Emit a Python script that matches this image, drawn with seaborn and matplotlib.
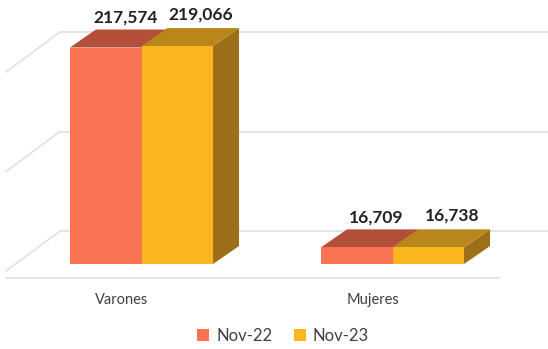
import matplotlib
matplotlib.use("Agg")
import matplotlib.pyplot as plt
from matplotlib.patches import Polygon
import pandas as pd
import seaborn as sns

# --- data -------------------------------------------------------------
categories = ["Varones", "Mujeres"]
periods = ["Nov-22", "Nov-23"]
values_nov22 = [217574, 16709]
values_nov23 = [219066, 16738]
grid_values = [0, 100000, 200000]

df = pd.DataFrame({
    "Sexo": categories * 2,
    "Periodo": [periods[0]] * len(categories) + [periods[1]] * len(categories),
    "Total": values_nov22 + values_nov23,
})

# --- style --------------------------------------------------------------
front_colors = ["#F97352", "#FBB51E"]
top_colors = ["#B34F38", "#B9861B"]
side_colors = ["#9E4430", "#9C6F18"]
grid_color = "#E2E2E8"
label_offsets = [(14, 21.5), (17, 23)]   # value-label offsets (points) per period

sns.set_theme(style="white")
plt.rcParams["font.family"] = ["Lato", "DejaVu Sans"]

W, H = 548, 349
fig = plt.figure(figsize=(W / 100, H / 100), dpi=100)
ax = fig.add_axes([0, 0, 1, 1])

sns.barplot(data=df, x="Sexo", y="Total", hue="Periodo", palette=front_colors,
            width=0.57, saturation=1, linewidth=0, ax=ax)

# pixel layout of the oblique projection
X0_PX = 141.5          # pixel column of the first category
PX_PER_CAT = 251.0     # pixels between categories
BASE_PX = 264.0        # pixel row of the bar baseline
PX_PER_VAL = 99.5 / 100000


def dx(px):
    return px / PX_PER_CAT


def dy(px):
    return px / PX_PER_VAL


ax.set_xlim(-X0_PX / PX_PER_CAT, (W - X0_PX) / PX_PER_CAT)
ax.set_ylim(-(H - BASE_PX) / PX_PER_VAL, BASE_PX / PX_PER_VAL)
ax.set_axis_off()

# walls: back-wall gridlines plus side-wall diagonals
wall_left = dx(60 - X0_PX)
wall_lift = dy(33)
diag_dx, diag_dy = dx(54), dy(40)
for g in grid_values:
    yb = g + wall_lift
    ax.plot([wall_left, ax.get_xlim()[1]], [yb, yb], color=grid_color, lw=1.3,
            zorder=0.5, solid_capstyle="butt")
    ax.plot([wall_left, wall_left - diag_dx], [yb, yb - diag_dy],
            color=grid_color, lw=1.3, zorder=0.5)
# front edge of the floor
ax.plot([wall_left - diag_dx, dx(500 - X0_PX)], [-dy(14.3), -dy(14.3)],
        color=grid_color, lw=1.3, zorder=0.5)

# extrude every bar into a box
depth_dx, depth_dy = dx(26), dy(18)
bars = []
for hi, cont in enumerate(ax.containers):
    for bar in cont:
        bars.append((bar.get_x(), hi, bar))
bars.sort(key=lambda t: t[0])

for rank, (_, hi, bar) in enumerate(bars):
    x, w, h = bar.get_x(), bar.get_width(), bar.get_height()
    z = 2 + 3 * rank
    side = Polygon([(x + w, 0), (x + w + depth_dx, depth_dy),
                    (x + w + depth_dx, h + depth_dy), (x + w, h)],
                   closed=True, facecolor=side_colors[hi], edgecolor="none", zorder=z)
    top = Polygon([(x, h), (x + w, h), (x + w + depth_dx, h + depth_dy),
                   (x + depth_dx, h + depth_dy)],
                  closed=True, facecolor=top_colors[hi], edgecolor="none", zorder=z + 1)
    ax.add_patch(side)
    ax.add_patch(top)
    bar.set_zorder(z + 2)

# value labels
for hi, cont in enumerate(ax.containers):
    for bar in cont:
        h = bar.get_height()
        ax.annotate(f"{h:,.0f}", xy=(bar.get_x() + bar.get_width() / 2, h),
                    xytext=label_offsets[hi], textcoords="offset points",
                    ha="center", va="center", fontsize=12.5, fontweight="bold",
                    color="#222222", zorder=50)

# category labels on the floor edge
for i, cat in enumerate(categories):
    ax.text(i - dx(20), 1 - 300 / H, cat, transform=ax.get_xaxis_transform(),
            ha="center", va="center", fontsize=10.5, color="#404040")

sns.move_legend(ax, "center", bbox_to_anchor=(283 / W, 1 - 336 / H),
                bbox_transform=fig.transFigure, ncol=2, frameon=False, title=None,
                fontsize=12, handlelength=0.7, handleheight=0.7,
                handletextpad=0.45, columnspacing=1.3, labelcolor="#404040")

fig.savefig("out.png", dpi=100)
